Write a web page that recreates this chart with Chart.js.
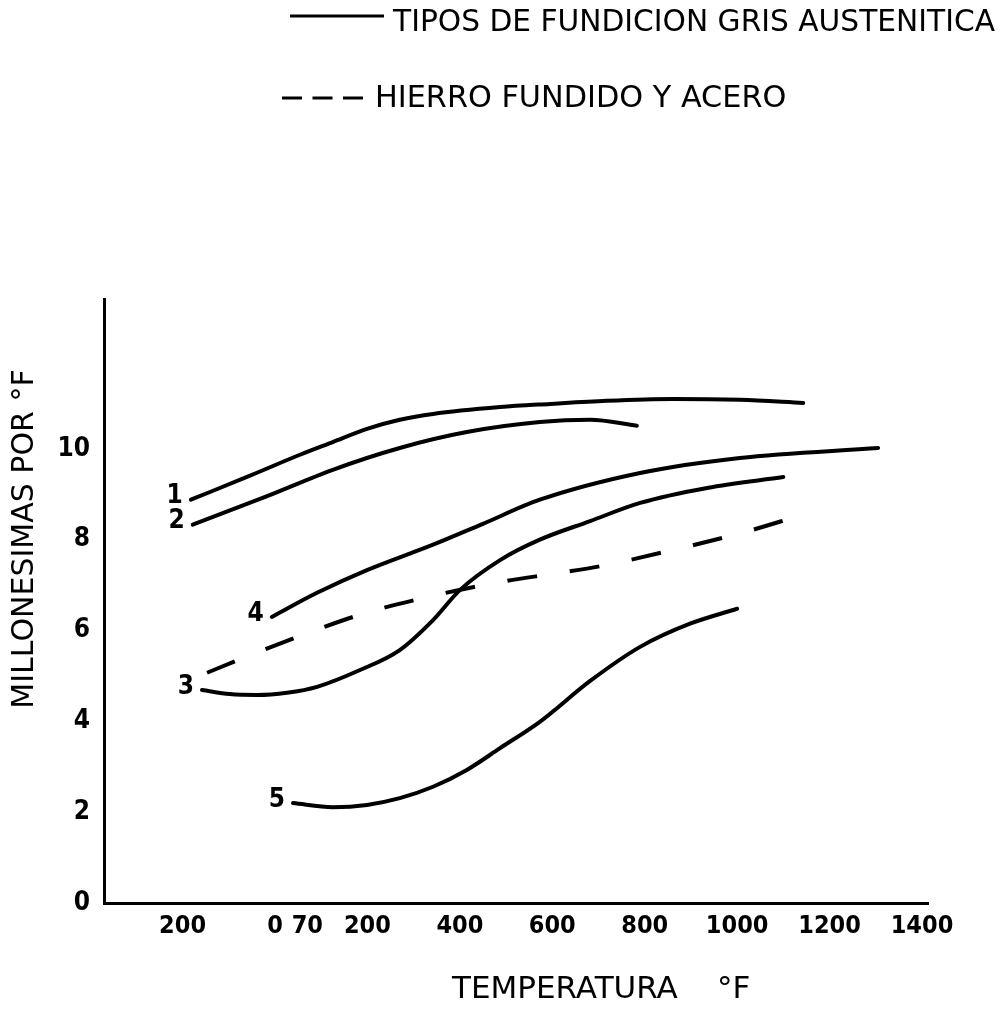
<!DOCTYPE html>
<html><head><meta charset="utf-8">
<script src="https://cdn.jsdelivr.net/npm/chart.js@4.4.1/dist/chart.umd.min.js"></script>
<style>html,body{margin:0;padding:0;background:#fff;}canvas{display:block;}</style>
</head><body>
<canvas id="c" width="1001" height="1010"></canvas>
<script>
// ---- data ----
const xTickValues = [-200, 0, 70, 200, 400, 600, 800, 1000, 1200, 1400];
const xTickLabels = ['200', '0', '70', '200', '400', '600', '800', '1000', '1200', '1400'];
const yTickValues = [0, 2, 4, 6, 8, 10];

const curveNames = ['1', '2', '3', '4', '5'];

const curve1T = [-182, -54, 54, 125, 199, 270, 342, 487, 595, 718, 861, 1006, 1143];
const curve1V = [8.88, 9.41, 9.87, 10.15, 10.44, 10.64, 10.77, 10.92, 10.99, 11.06, 11.10, 11.08, 11.01];

const curve2T = [-178, -17, 125, 270, 415, 573, 682, 783];
const curve2V = [8.33, 8.96, 9.54, 10.02, 10.37, 10.59, 10.64, 10.51];

const curve3T = [-158, -98, -39, 26, 91, 184, 270, 342, 400, 487, 573, 682, 790, 935, 1100];
const curve3V = [4.69, 4.60, 4.58, 4.63, 4.76, 5.13, 5.57, 6.23, 6.89, 7.55, 8.00, 8.41, 8.81, 9.14, 9.38];

const curve4T = [-7, 91, 199, 342, 450, 573, 790, 1006, 1305];
const curve4V = [6.30, 6.83, 7.33, 7.89, 8.35, 8.88, 9.47, 9.80, 10.02];

const curve5T = [39, 125, 199, 270, 342, 415, 487, 573, 682, 790, 898, 1000];
const curve5V = [2.20, 2.11, 2.16, 2.31, 2.56, 2.93, 3.41, 3.99, 4.89, 5.64, 6.15, 6.48];

const steelT = [-147, -80, 54, 191, 340, 487, 617, 706, 851, 1017, 1132];
const steelV = [5.07, 5.35, 5.88, 6.37, 6.76, 7.07, 7.27, 7.42, 7.75, 8.17, 8.52];

const legendLabels = ['TIPOS DE FUNDICION GRIS AUSTENITICA', 'HIERRO FUNDIDO Y ACERO'];
const xTitle = 'TEMPERATURA';
const xTitleUnit = '°F';
const yTitle = 'MILLONESIMAS POR °F';

// ---- build ----
const pts = (t, v) => t.map((x, i) => ({ x: x, y: v[i] }));
const INK = '#000';
const COND = '"DejaVu Sans Condensed", "DejaVu Sans", sans-serif';
const SANS = '"DejaVu Sans", sans-serif';

const lineBase = {
  borderColor: INK, borderWidth: 4, pointRadius: 0, fill: false,
  cubicInterpolationMode: 'monotone', borderCapStyle: 'round', borderJoinStyle: 'round'
};

const solidSeries = [
  [curve1T, curve1V], [curve2T, curve2V], [curve3T, curve3V], [curve4T, curve4V], [curve5T, curve5V]
];

const datasets = solidSeries.map((s, i) => Object.assign({}, lineBase, {
  label: legendLabels[0] + ' ' + curveNames[i],
  tag: curveNames[i],
  data: pts(s[0], s[1])
}));
datasets.push(Object.assign({}, lineBase, {
  label: legendLabels[1],
  borderDash: [30, 33],
  borderCapStyle: 'butt',
  data: pts(steelT, steelV)
}));

const textPlugin = {
  id: 'textPlugin',
  afterDraw(chart) {
    const ctx = chart.ctx;
    ctx.save();
    ctx.fillStyle = INK;
    ctx.strokeStyle = INK;

    // curve numbers next to each curve start
    ctx.font = 'bold 26px ' + COND;
    ctx.textAlign = 'right';
    ctx.textBaseline = 'middle';
    chart.data.datasets.forEach((ds, i) => {
      if (!ds.tag) return;
      const p = chart.getDatasetMeta(i).data[0];
      ctx.fillText(ds.tag, p.x - 8, p.y - 3);
    });

    // legend
    ctx.lineWidth = 3;
    ctx.setLineDash([]);
    ctx.beginPath(); ctx.moveTo(290, 16); ctx.lineTo(384, 16); ctx.stroke();
    ctx.setLineDash([20, 10.5]);
    ctx.beginPath(); ctx.moveTo(282, 98); ctx.lineTo(363, 98); ctx.stroke();
    ctx.setLineDash([]);
    ctx.textAlign = 'left';
    ctx.font = '29.7px ' + SANS;
    ctx.fillText(legendLabels[0], 393, 23);
    ctx.font = '30.3px ' + SANS;
    ctx.fillText(legendLabels[1], 375, 99);

    // axis titles
    ctx.font = '31px ' + SANS;
    ctx.fillText(xTitle, 452, 990);
    ctx.fillText(xTitleUnit, 717, 990);

    ctx.save();
    ctx.translate(25, 539);
    ctx.rotate(-Math.PI / 2);
    ctx.font = '30px ' + SANS;
    ctx.textAlign = 'center';
    ctx.fillText(yTitle, 0, 0);
    ctx.restore();

    ctx.restore();
  }
};

new Chart(document.getElementById('c'), {
  type: 'line',
  data: { datasets: datasets },
  options: {
    responsive: false,
    animation: false,
    events: [],
    layout: { padding: { top: 299, right: 73, left: 0, bottom: 0 } },
    plugins: { legend: { display: false }, tooltip: { enabled: false }, title: { display: false } },
    scales: {
      x: {
        type: 'linear', min: -370, max: 1413,
        afterBuildTicks: (s) => { s.ticks = xTickValues.map(v => ({ value: v })); },
        afterFit: (s) => { s.height = 107; },
        grid: { display: false, drawTicks: false },
        border: { display: true, color: INK, width: 3 },
        ticks: {
          autoSkip: false, maxRotation: 0, minRotation: 0, padding: 8, color: INK,
          font: { family: COND, size: 25, weight: 'bold' },
          callback: (v, i) => xTickLabels[i]
        }
      },
      y: {
        type: 'linear', min: 0, max: 13.3,
        afterBuildTicks: (s) => { s.ticks = yTickValues.map(v => ({ value: v })); },
        afterFit: (s) => { s.width = 104; },
        grid: { display: false, drawTicks: false },
        border: { display: true, color: INK, width: 3 },
        ticks: {
          padding: 14, color: INK,
          font: { family: COND, size: 26, weight: 'bold' },
          callback: (v) => String(v)
        }
      }
    }
  },
  plugins: [textPlugin]
});
</script>
</body></html>
